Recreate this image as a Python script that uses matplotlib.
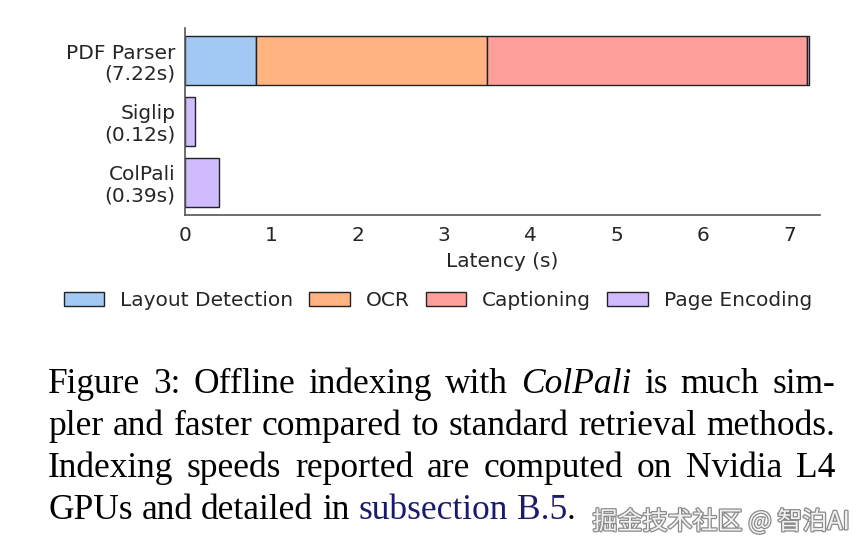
import numpy as np
import matplotlib.pyplot as plt
import matplotlib.patheffects as pe

# data
methods = ['PDF Parser\n(7.22s)', 'Siglip\n(0.12s)', 'ColPali\n(0.39s)']
stages = ['Layout Detection', 'OCR', 'Captioning', 'Page Encoding']
layout = [0.82, 0.0, 0.0]
ocr = [2.68, 0.0, 0.0]
caption = [3.70, 0.0, 0.0]
page_enc = [0.02, 0.12, 0.39]
colors = ['#a1c9f4', '#ffb482', '#ff9f9b', '#d0bbff']

fig = plt.figure(figsize=(8.67, 5.53), dpi=100)
ax = fig.add_axes([0.2134, 0.611, 0.7324, 0.339])

y = np.arange(len(methods))
left = np.zeros(len(methods))
for name, vals, c in zip(stages, [layout, ocr, caption, page_enc], colors):
    vals = np.array(vals)
    ax.barh(y, vals, left=left, height=0.8, color=c, edgecolor='#222222',
            linewidth=1.0, label=name)
    left = left + vals

ax.invert_yaxis()
ax.set_yticks(y)
ax.set_yticklabels(methods, fontsize=14.5, color='#262626', linespacing=1.15)
ax.set_xlim(0, 7.35)
ax.set_xticks(range(8))
ax.tick_params(axis='x', length=0, pad=8, labelsize=14.5, labelcolor='#262626')
ax.tick_params(axis='y', length=0, pad=7)
for s in ['top', 'right']:
    ax.spines[s].set_visible(False)
for s in ['left', 'bottom']:
    ax.spines[s].set_color('#555555')
    ax.spines[s].set_linewidth(1.2)
ax.set_xlabel('Latency (s)', fontsize=14.5, color='#262626', labelpad=5)

fig.legend(loc='center', bbox_to_anchor=(0.505, 0.457), ncol=4, frameon=False,
           fontsize=14.5, handlelength=2.0, handletextpad=0.8, columnspacing=0.8,
           labelcolor='#262626')

# caption, justified like the LaTeX source
serif = 'Liberation Serif'
fs = 25.5
x0, x1 = 48 / 867, 835 / 867
lines = [
    ([('Figure', 'normal', 'k'), ('3:', 'normal', 'k'), ('Offline', 'normal', 'k'),
      ('indexing', 'normal', 'k'), ('with', 'normal', 'k'), ('ColPali', 'italic', 'k'),
      ('is', 'normal', 'k'), ('much', 'normal', 'k'), ('sim-', 'normal', 'k')], True),
    ([(w, 'normal', 'k') for w in 'pler and faster compared to standard retrieval methods.'.split()], True),
    ([(w, 'normal', 'k') for w in 'Indexing speeds reported are computed on Nvidia L4'.split()], True),
    ([('GPUs', 'normal', 'k'), ('and', 'normal', 'k'), ('detailed', 'normal', 'k'),
      ('in', 'normal', 'k'), ('subsection', 'normal', '#1a1a6e'), ('B.5', 'normal', '#1a1a6e'),
      ('.', 'normal', 'k')], False),
]
baselines = [393, 435, 477, 519]

fig.canvas.draw()
r = fig.canvas.get_renderer()
W = fig.bbox.width
space = fig.text(0, 0, 'a a', family=serif, fontsize=fs)
aa = fig.text(0, 0, 'aa', family=serif, fontsize=fs)
sp = (space.get_window_extent(r).width - aa.get_window_extent(r).width) / W
space.remove()
aa.remove()

for (words, justify), yb in zip(lines, baselines):
    ts = []
    for w, st, c in words:
        t = fig.text(0, 1 - yb / 553, w, family=serif, fontsize=fs, style=st,
                     color=c, va='baseline', ha='left')
        ts.append(t)
    widths = [t.get_window_extent(r).width / W for t in ts]
    if justify:
        gap = (x1 - x0 - sum(widths)) / (len(ts) - 1)
    else:
        gap = sp
    x = x0
    for i, (t, wd) in enumerate(zip(ts, widths)):
        if not justify and words[i][0] == '.':
            x -= gap
        t.set_x(x)
        x += wd + gap

fig.text(850 / 867, 1 - 522 / 553, '掘金技术社区 @ 智泊AI', ha='right', va='center',
         fontsize=18, family=['Noto Sans CJK SC', 'DejaVu Sans'], color='#f2f2f2',
         path_effects=[pe.withStroke(linewidth=1.8, foreground='#8a8a8a')])

fig.savefig('out.png', dpi=100)
